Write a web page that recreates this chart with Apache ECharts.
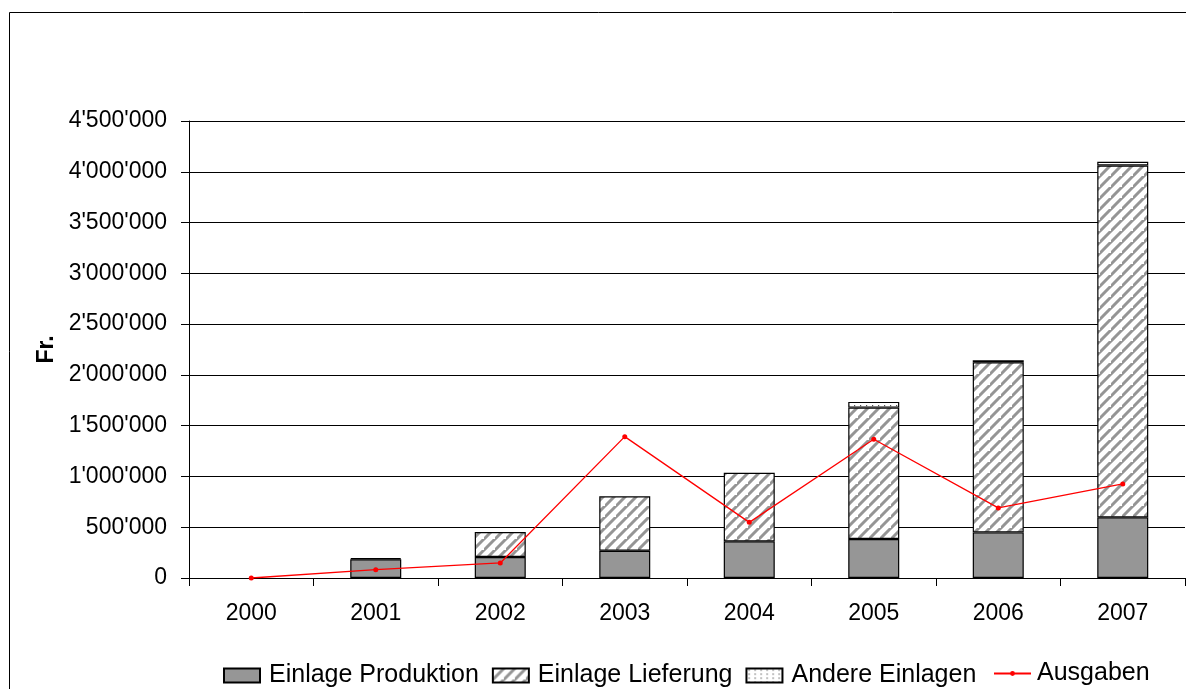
<!DOCTYPE html>
<html>
<head>
<meta charset="utf-8">
<script src="https://cdn.jsdelivr.net/npm/echarts@6/dist/echarts.min.js"></script>
<style>
html,body{margin:0;padding:0;background:#fff;}
#c{width:1186px;height:689px;}
</style>
</head>
<body>
<div id="c"></div>
<script>
var years = ['2000','2001','2002','2003','2004','2005','2006','2007'];
var produktion = [0, 185000, 207000, 269000, 361000, 384000, 449000, 597000];
var lieferung  = [0, 10000, 246000, 535000, 676000, 1294000, 1675000, 3465000];
var andere     = [0, 0, 0, 0, 0, 56000, 20000, 37000];
var ausgaben   = [0, 82000, 148000, 1392000, 548000, 1366000, 690000, 926000];
var yTicks = [0, 500000, 1000000, 1500000, 2000000, 2500000, 3000000, 3500000, 4000000, 4500000];

function noZero(arr) { return arr.map(function (v) { return v === 0 ? null : v; }); }

function hatchPattern() {
  var s = 11;
  var c = document.createElement('canvas');
  c.width = s; c.height = s;
  var g = c.getContext('2d');
  g.fillStyle = '#ffffff';
  g.fillRect(0, 0, s, s);
  g.strokeStyle = '#959595';
  g.lineWidth = 3.0;
  g.beginPath();
  g.moveTo(-2, s + 2); g.lineTo(s + 2, -2);
  g.moveTo(-s - 2, s + 2); g.lineTo(2, -2);
  g.moveTo(s - 2, 2 * s + 2); g.lineTo(2 * s + 2, s - 2);
  g.stroke();
  return c;
}
function dotPattern() {
  var c = document.createElement('canvas');
  c.width = 6; c.height = 4;
  var g = c.getContext('2d');
  g.fillStyle = '#ffffff';
  g.fillRect(0, 0, 6, 4);
  g.fillStyle = '#555555';
  g.fillRect(2, 1, 1.2, 1.2);
  return c;
}

function fmt(v) {
  return String(v).replace(/\B(?=(\d{3})+(?!\d))/g, "'");
}

var chart = echarts.init(document.getElementById('c'), null, {renderer: 'canvas'});
var font = 'Arial, "Liberation Sans", sans-serif';
var option = {
  backgroundColor: '#ffffff',
  animation: false,
  textStyle: {fontFamily: font},
  graphic: [{
    type: 'rect', silent: true, z: -1,
    shape: {x: 9.5, y: 12.5, width: 1300, height: 800},
    style: {fill: 'none', stroke: '#000000', lineWidth: 1}
  }],
  grid: {left: 189, right: 1, top: 121, bottom: 111, containLabel: false},
  legend: [{
    data: [
      {name: 'Einlage Produktion', icon: 'rect'},
      {name: 'Einlage Lieferung', icon: 'rect'},
      {name: 'Andere Einlagen', icon: 'rect'}
    ],
    left: 218, top: 658,
    itemWidth: 36, itemHeight: 14, itemGap: 13,
    textStyle: {fontSize: 25, color: '#000', fontFamily: font, padding: [0, 0, 0, 4]},
    selectedMode: false
  }, {
    data: [{name: 'Ausgaben'}],
    left: 988, top: 656,
    itemWidth: 37, itemHeight: 6,
    textStyle: {fontSize: 25, color: '#000', fontFamily: font, padding: [0, 0, 0, 1]},
    selectedMode: false
  }],
  xAxis: {
    type: 'category',
    data: years,
    axisLine: {lineStyle: {color: '#000', width: 1}},
    axisTick: {show: true, length: 8, lineStyle: {color: '#000'}},
    axisLabel: {fontSize: 23, color: '#000', margin: 24, fontFamily: font},
    splitLine: {show: false}
  },
  yAxis: {
    type: 'value',
    min: 0, max: 4500000, interval: 500000,
    name: 'Fr.',
    nameLocation: 'middle',
    nameRotate: 90,
    nameGap: 131,
    nameTextStyle: {fontSize: 23, fontWeight: 'bold', color: '#000', fontFamily: font},
    axisLine: {show: true, lineStyle: {color: '#000', width: 1}},
    axisTick: {show: true, length: 8, lineStyle: {color: '#000'}},
    axisLabel: {fontSize: 23, color: '#000', margin: 22, fontFamily: font,
      formatter: function (v) { return yTicks.indexOf(v) >= 0 ? fmt(v) : ''; }},
    splitLine: {show: true, lineStyle: {color: '#000', width: 1}}
  },
  series: [{
    name: 'Einlage Produktion', type: 'bar', stack: 'a', data: noZero(produktion),
    barWidth: 51,
    itemStyle: {color: '#969696', borderColor: '#000', borderWidth: 1.2}
  }, {
    name: 'Einlage Lieferung', type: 'bar', stack: 'a', data: noZero(lieferung),
    barWidth: 51,
    itemStyle: {color: {image: hatchPattern(), repeat: 'repeat'}, borderColor: '#000', borderWidth: 1.2}
  }, {
    name: 'Andere Einlagen', type: 'bar', stack: 'a', data: noZero(andere),
    barWidth: 51,
    itemStyle: {color: {image: dotPattern(), repeat: 'repeat'}, borderColor: '#000', borderWidth: 1.2}
  }, {
    name: 'Ausgaben', type: 'line', data: ausgaben,
    symbol: 'circle', symbolSize: 5,
    itemStyle: {color: '#ff0000'},
    lineStyle: {color: '#ff0000', width: 1.3},
    z: 5
  }]
};
chart.setOption(option);
</script>
</body>
</html>
